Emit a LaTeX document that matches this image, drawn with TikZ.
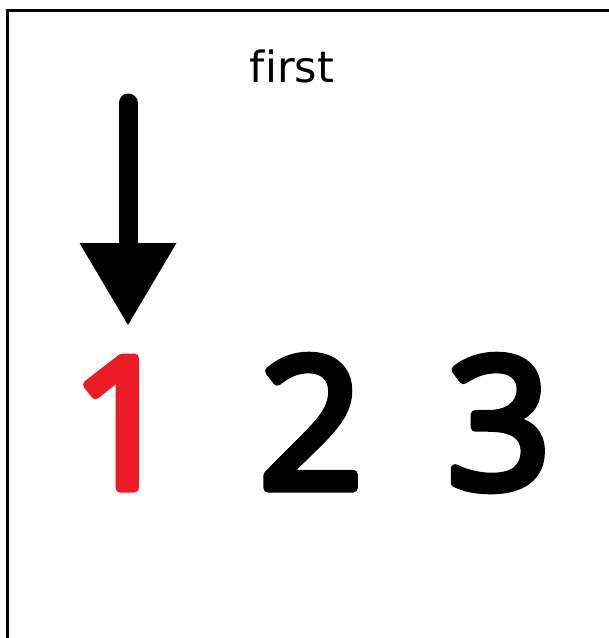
\documentclass[tikz,border=0pt]{standalone}
\usepackage{fontspec}
\setmainfont{DejaVu Sans}[Ligatures=NoCommon]
\newfontfamily\numfont{Open Sans}
\usetikzlibrary{arrows.meta}
\definecolor{numred}{HTML}{ED1C24}
\newcommand{\heavydigit}[1]{\special{pdf:literal direct 2 Tr 9 w 1 j 1 J}#1\special{pdf:literal direct 0 Tr}}
\tikzset{
  digit/.style={inner sep=0pt, anchor=base, font=\numfont\fontsize{182}{182}\selectfont},
  frameline/.style={line width=3pt, line join=miter},
  shaft/.style={line width=19pt, line cap=round},
  head/.style={fill=black, draw=none}
}
\begin{document}
\begin{tikzpicture}[x=1pt,y=-1pt]
\useasboundingbox (0,0) rectangle (609,638);
\fill[white] (0,0) rectangle (609,638);
\draw[frameline] (7,640) -- (7,10) -- (611,10);
\node[font=\fontsize{43}{43}\selectfont, inner sep=0pt, anchor=base] (first) at (292,82) {first};
\node[digit, text=numred] (one) at (123,488) {\heavydigit{1}};
\node[digit] (two) at (311,488) {\heavydigit{2}};
\node[digit] (three) at (499,488) {\heavydigit{3}};
\coordinate (top) at (128,103);
\coordinate (base) at (128,250);
\coordinate (tip) at (128,325);
\coordinate (hl) at (79.5,243);
\coordinate (hr) at (176.5,243);
\draw[shaft] (top) -- (base);
\fill[head] (tip) -- (hl) -- (hr) -- cycle;
\end{tikzpicture}
\end{document}
